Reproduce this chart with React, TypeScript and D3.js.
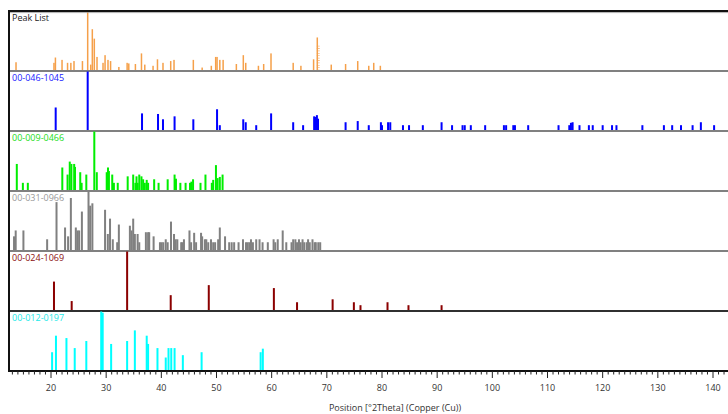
import React from "react";
import * as d3 from "d3";

const panelNames = ["Peak List", "00-046-1045", "00-009-0466", "00-031-0966", "00-024-1069", "00-012-0197"];
const panelColors = ["#f5a04a", "#0000ff", "#00ee00", "#808080", "#8b0000", "#00ffff"];
const labelColors = ["#222222", "#2020ff", "#22dd22", "#9a9a9a", "#8b1010", "#22e8e8"];

const peakPos = [13.66, 20.54, 20.8, 22.0, 23.0, 23.6, 24.17, 25.7, 26.65, 27.2, 27.49, 27.85, 28.34, 29.43, 29.8, 30.33, 30.8, 32.3, 33.8, 34.1, 35.3, 36.4, 37.0, 38.5, 39.3, 40.3, 41.7, 42.3, 45.8, 47.4, 49.06, 49.85, 50.1, 50.6, 51.2, 53.6, 54.86, 55.3, 57.6, 58.55, 59.88, 63.9, 65.3, 67.6, 68.27, 70.8, 73.4, 75.6, 77.6, 78.5, 79.7];
const peakInt = [0.14, 0.13, 0.22, 0.18, 0.13, 0.13, 0.16, 0.16, 1.0, 0.1, 0.7, 0.54, 0.23, 0.13, 0.26, 0.18, 0.16, 0.06, 0.13, 0.12, 0.11, 0.29, 0.1, 0.08, 0.19, 0.13, 0.16, 0.18, 0.18, 0.05, 0.08, 0.23, 0.23, 0.18, 0.18, 0.11, 0.26, 0.13, 0.08, 0.11, 0.29, 0.13, 0.08, 0.19, 0.56, 0.1, 0.11, 0.16, 0.08, 0.13, 0.08];
// overlapping cluster marker beside the 68.27 peak (drawn dashed)
const peakClusterPos = [68.45];
const peakClusterInt = [0.42];

const quartzPos = [20.85, 26.65, 36.5, 39.4, 40.3, 42.4, 45.8, 50.1, 50.6, 54.85, 55.3, 57.2, 59.9, 63.9, 65.7, 67.7, 67.9, 68.2, 68.4, 73.4, 75.6, 77.6, 79.8, 80.0, 81.1, 81.5, 83.8, 84.9, 87.4, 90.8, 92.7, 94.6, 95.0, 96.1, 98.7, 102.1, 102.5, 103.8, 104.1, 106.5, 112.0, 113.95, 114.25, 114.55, 115.8, 117.5, 118.2, 120.0, 121.7, 122.5, 127.2, 131.1, 132.6, 134.2, 136.3, 137.8, 140.2];
const quartzInt = [0.39, 1.0, 0.29, 0.28, 0.19, 0.24, 0.19, 0.36, 0.09, 0.19, 0.14, 0.09, 0.29, 0.14, 0.09, 0.24, 0.23, 0.26, 0.2, 0.14, 0.16, 0.09, 0.14, 0.09, 0.14, 0.14, 0.09, 0.09, 0.09, 0.14, 0.09, 0.09, 0.09, 0.09, 0.09, 0.09, 0.09, 0.09, 0.09, 0.09, 0.09, 0.09, 0.13, 0.14, 0.09, 0.09, 0.09, 0.09, 0.09, 0.09, 0.09, 0.09, 0.09, 0.09, 0.09, 0.14, 0.09];

const albitePos = [13.8, 14.9, 15.8, 22.05, 23.0, 23.4, 23.7, 24.2, 24.35, 25.3, 25.55, 26.4, 27.85, 28.3, 30.1, 30.33, 30.5, 31.1, 31.4, 32.1, 33.9, 34.9, 35.3, 35.5, 35.7, 36.0, 36.4, 36.7, 37.0, 37.35, 37.6, 38.7, 39.5, 41.15, 42.4, 42.65, 43.45, 44.4, 45.2, 45.45, 45.75, 47.1, 48.0, 49.15, 49.4, 49.9, 50.2, 50.6, 51.1];
const albiteInt = [0.45, 0.13, 0.13, 0.39, 0.27, 0.49, 0.45, 0.45, 0.4, 0.31, 0.13, 0.27, 1.0, 0.31, 0.31, 0.39, 0.33, 0.27, 0.13, 0.13, 0.24, 0.27, 0.13, 0.24, 0.13, 0.27, 0.24, 0.19, 0.13, 0.18, 0.13, 0.19, 0.13, 0.19, 0.27, 0.2, 0.13, 0.13, 0.13, 0.15, 0.19, 0.13, 0.27, 0.13, 0.18, 0.43, 0.21, 0.23, 0.27];

const orthoPos = [13.3, 13.6, 15.0, 19.3, 21.0, 22.55, 23.1, 23.6, 24.5, 24.8, 25.1, 25.6, 26.8, 27.1, 27.5, 29.8, 30.3, 30.7, 31.2, 32.0, 32.3, 34.3, 34.6, 34.9, 35.2, 35.7, 36.0, 37.2, 37.6, 37.8, 38.6, 39.75, 40.05, 40.35, 40.8, 41.15, 41.75, 42.3, 42.6, 42.9, 43.6, 43.8, 44.1, 45.1, 45.4, 45.95, 46.3, 47.2, 47.4, 47.9, 48.15, 48.5, 49.0, 49.4, 49.75, 50.3, 50.6, 51.55, 52.3, 52.75, 53.2, 54.0, 54.8, 55.35, 55.65, 55.95, 56.25, 56.6, 57.2, 57.8, 58.35, 59.3, 60.35, 60.65, 61.1, 62.0, 62.65, 63.6, 63.9, 64.3, 64.6, 64.95, 65.25, 65.6, 65.9, 66.35, 66.6, 66.9, 67.4, 67.8, 68.0, 68.45, 68.8];
const orthoInt = [0.24, 0.34, 0.34, 0.19, 0.82, 0.39, 0.24, 0.89, 0.39, 0.34, 0.34, 0.66, 1.0, 0.76, 0.8, 0.69, 0.28, 0.54, 0.19, 0.14, 0.44, 0.42, 0.34, 0.54, 0.28, 0.28, 0.14, 0.31, 0.31, 0.31, 0.24, 0.14, 0.14, 0.14, 0.19, 0.14, 0.49, 0.28, 0.19, 0.19, 0.14, 0.14, 0.19, 0.34, 0.14, 0.3, 0.14, 0.3, 0.24, 0.19, 0.19, 0.14, 0.19, 0.14, 0.14, 0.19, 0.39, 0.24, 0.14, 0.14, 0.14, 0.14, 0.19, 0.14, 0.14, 0.14, 0.19, 0.14, 0.19, 0.19, 0.14, 0.14, 0.19, 0.14, 0.19, 0.34, 0.14, 0.14, 0.19, 0.19, 0.14, 0.19, 0.14, 0.19, 0.14, 0.14, 0.19, 0.14, 0.19, 0.14, 0.14, 0.14, 0.14];

const redPos = [20.54, 23.75, 33.8, 41.7, 48.6, 60.4, 64.6, 71.05, 74.9, 76.1, 81.0, 84.8, 90.8];
const redInt = [0.49, 0.16, 1.0, 0.26, 0.43, 0.38, 0.14, 0.19, 0.14, 0.09, 0.14, 0.09, 0.09];

const cyanPos = [20.2, 20.9, 22.8, 24.3, 26.4, 29.1, 29.37, 30.9, 33.8, 35.2, 37.35, 37.6, 39.3, 40.8, 41.3, 41.8, 42.4, 43.9, 47.3, 58.0, 58.4];
const cyanInt = [0.31, 0.59, 0.55, 0.38, 0.5, 1.0, 0.98, 0.45, 0.5, 0.68, 0.59, 0.45, 0.38, 0.22, 0.38, 0.38, 0.38, 0.26, 0.31, 0.31, 0.37];

const majorTicks = [20, 30, 40, 50, 60, 70, 80, 90, 100, 110, 120, 130, 140];
const xTitle = "Position [°2Theta] (Copper (Cu))";

const panelPos = [peakPos, quartzPos, albitePos, orthoPos, redPos, cyanPos];
const panelInt = [peakInt, quartzInt, albiteInt, orthoInt, redInt, cyanInt];

export default function App() {
  const W = 728, H = 414;
  const left = 9, right = 728, top = 11, ph = 60;
  const bottom = top + ph * 6;
  const x = d3.scaleLinear().domain([20, 140]).range([51, 713]);
  const minor = d3.range(Math.ceil(x.invert(left)), Math.floor(x.invert(right)) + 1);
  const font = "'Segoe UI', 'Open Sans', 'Noto Sans', sans-serif";
  return (
    <svg width={W} height={H} style={{ position: "absolute", left: 0, top: 0, background: "#fff" }}>
      {panelNames.map((name, i) => {
        const base = top + ph * (i + 1) - 0.5;
        const y = d3.scaleLinear().domain([0, 1]).range([base, top + ph * i + 0.5]);
        const bw = i === 0 ? 1.5 : 2;
        return (
          <g key={name}>
            {i === 0 && peakClusterPos.map((p, j) => (
              <line key={"c" + j} x1={x(p)} x2={x(p)} y1={base} y2={y(peakClusterInt[j])} stroke="#f8c090" strokeWidth={3} strokeDasharray="0.8 1.6" />
            ))}
            {panelPos[i].map((p, j) => (
              <rect key={j} x={x(p) - bw / 2} y={y(panelInt[i][j])} width={bw} height={base - y(panelInt[i][j])} fill={panelColors[i]} />
            ))}
            <text x={left + 3} y={top + ph * i + 10} fontFamily={font} fontSize={9} fill={labelColors[i]}>{name}</text>
            {i < 5 && (
              <line x1={left} x2={right} y1={top + ph * (i + 1)} y2={top + ph * (i + 1)} stroke={i === 4 ? "#303030" : "#808080"} strokeWidth={1.8} />
            )}
          </g>
        );
      })}
      <line x1={left} x2={right} y1={top} y2={top} stroke="#111" strokeWidth={2} />
      <line x1={left} x2={right} y1={top + 1.6} y2={top + 1.6} stroke="#999" strokeWidth={0.8} />
      <line x1={left} x2={left} y1={top - 1} y2={bottom + 1} stroke="#111" strokeWidth={2} />
      <line x1={left} x2={right} y1={bottom} y2={bottom} stroke="#111" strokeWidth={2} />
      {minor.map((t) => (
        <line key={t} x1={x(t)} x2={x(t)} y1={bottom} y2={bottom + (t % 10 === 0 ? 7 : 3.5)} stroke="#222" strokeWidth={1} />
      ))}
      {majorTicks.map((t) => (
        <text key={t} x={x(t)} y={391} textAnchor="middle" fontFamily={font} fontSize={9} fill="#333">{t}</text>
      ))}
      <text x={395} y={411} textAnchor="middle" fontFamily={font} fontSize={9} fill="#333">{xTitle}</text>
    </svg>
  );
}
